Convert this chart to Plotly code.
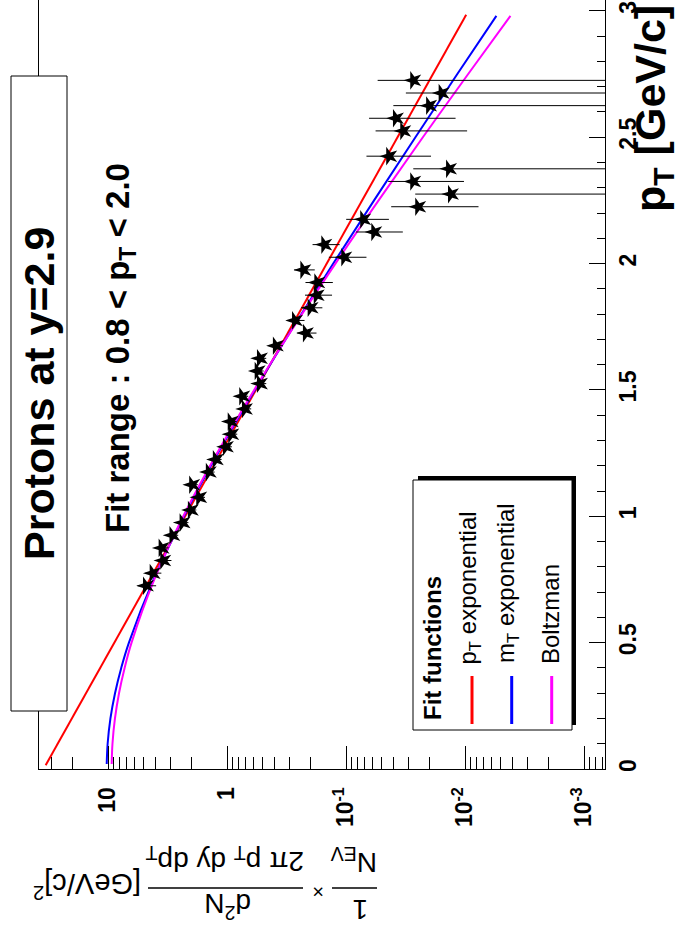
import plotly.graph_objects as go

# ---------------- data ----------------
pt = [0.725, 0.775, 0.825, 0.875, 0.925, 0.975, 1.025, 1.075, 1.125, 1.175,
      1.225, 1.275, 1.325, 1.375, 1.425, 1.475, 1.525, 1.575, 1.625, 1.675,
      1.725, 1.775, 1.825, 1.875, 1.925, 1.975, 2.025, 2.075, 2.125, 2.175,
      2.225, 2.275, 2.325, 2.375, 2.425, 2.525, 2.575, 2.625, 2.675, 2.725]
dn = [4.79, 4.21, 3.43, 3.54, 2.87, 2.36, 2.01, 1.71, 1.96, 1.42,
      1.24, 1.02, 0.92, 0.93, 0.706, 0.744, 0.528, 0.552, 0.528, 0.388,
      0.217, 0.268, 0.198, 0.176, 0.174, 0.228, 0.1033, 0.152, 0.0578, 0.0716,
      0.0247, 0.0131, 0.0272, 0.0136, 0.0433, 0.033, 0.038, 0.020, 0.0157, 0.0272]
dn_err = [0.85, 0.65, 0.5, 0.45, 0.3, 0.25, 0.2, 0.18, 0.2, 0.15,
          0.13, 0.11, 0.1, 0.1, 0.08, 0.08, 0.06, 0.06, 0.06, 0.05,
          0.04, 0.045, 0.04, 0.045, 0.045, 0.045, 0.036, 0.039, 0.0245, 0.028,
          0.017, 0.0131, 0.017, 0.0136, 0.024, 0.0234, 0.026, 0.020, 0.0157, 0.027]

curve_pt = [0.02, 0.1, 0.2, 0.3, 0.4, 0.5, 0.75, 1.0, 1.25, 1.5, 1.75, 2.0,
            2.25, 2.5, 2.75, 2.98]
mt_exp = [10.25, 10.07, 9.54, 8.73, 7.74, 6.67, 4.14, 2.30, 1.19, 0.583,
          0.2765, 0.128, 0.0581, 0.0261, 0.0116, 0.00545]
boltz = [9.31, 9.17, 8.74, 8.08, 7.25, 6.34, 4.08, 2.33, 1.21, 0.591,
         0.2745, 0.1227, 0.0532, 0.0226, 0.0094, 0.00415]
red_pt = [0.015, 1.0, 2.0, 2.985]
pt_exp = [33.4, 2.25, 0.145, 0.00977]

decade_vals = [1e-3, 1e-2, 1e-1, 1, 10]
decade_text = ["10<sup>-3</sup>", "10<sup>-2</sup>", "10<sup>-1</sup>", "1", "10"]
minor_vals = [m * 10.0 ** k for k in range(-4, 2) for m in range(2, 10)]

# ---------------- layout helpers ----------------
W, H = 677, 940
L, R, T, B = 39, 605, 0, 769
def px(x):
    return (x - L) / (R - L)
def py(y):
    return (B - y) / (B - T)

FONT = "Liberation Sans"

fig = go.Figure()

fig.add_trace(go.Scatter(x=pt_exp, y=red_pt, mode="lines",
                         line=dict(color="#ff0000", width=2), hoverinfo="skip"))
fig.add_trace(go.Scatter(x=mt_exp, y=curve_pt, mode="lines",
                         line=dict(color="#0000ff", width=2, shape="spline"), hoverinfo="skip"))
fig.add_trace(go.Scatter(x=boltz, y=curve_pt, mode="lines",
                         line=dict(color="#ff00ff", width=2, shape="spline"), hoverinfo="skip"))
fig.add_trace(go.Scatter(
    x=dn, y=pt, mode="markers",
    marker=dict(symbol="star", size=14, color="black", angle=-90,
                line=dict(width=0)),
    error_x=dict(type="data", array=dn_err, color="black", thickness=1, width=0),
))
# helper trace for the minor-tick axis
fig.add_trace(go.Scatter(x=[1], y=[1], xaxis="x2", mode="markers",
                         marker=dict(opacity=0), hoverinfo="skip"))

xr = [1.5798, -3.1765]
tickfont = dict(family=FONT, size=23, color="black", weight="bold")
fig.update_layout(
    width=W, height=H,
    margin=dict(l=L, r=W - R, t=T, b=H - B),
    paper_bgcolor="white", plot_bgcolor="white",
    showlegend=False,
    xaxis=dict(type="log", range=xr, tickvals=decade_vals, ticktext=decade_text,
               ticks="inside", ticklen=23, tickwidth=1, tickcolor="black",
               showline=True, linecolor="black", linewidth=1,
               showgrid=False, zeroline=False, tickangle=-90,
               tickfont=tickfont, ticklabelstandoff=8),
    xaxis2=dict(type="log", range=xr, overlaying="x", anchor="y", side="bottom",
                tickvals=minor_vals, ticks="inside", ticklen=12, tickwidth=1,
                tickcolor="black", showticklabels=False, showgrid=False,
                showline=False, zeroline=False),
    yaxis=dict(range=[0, 3.043], side="right", tick0=0, dtick=0.5,
               ticks="inside", ticklen=16, tickwidth=1, tickcolor="black",
               minor=dict(ticks="inside", ticklen=8, tick0=0, dtick=0.1,
                          tickcolor="black", showgrid=False),
               showline=True, mirror=True, linecolor="black", linewidth=1,
               showgrid=False, zeroline=False, tickangle=-90,
               tickfont=tickfont, ticklabelstandoff=2),
)

shapes = []
annots = []

# title pave
shapes.append(dict(type="rect", xref="paper", yref="paper",
                   x0=px(11), x1=px(67), y0=py(711), y1=py(76),
                   line=dict(color="black", width=1), fillcolor="white", layer="above"))
annots.append(dict(text="<b>Protons at y=2.9</b>", x=px(39), y=py(394),
                   textangle=-90, font=dict(family=FONT, size=43, color="black")))
annots.append(dict(text="<b>Fit range : 0.8 &lt; p<sub>T</sub> &lt; 2.0</b>", x=px(120), y=py(348),
                   textangle=-90, font=dict(family=FONT, size=33, color="black")))
annots.append(dict(text="<b>p<sub>T</sub> [GeV/c]</b>", x=px(653), y=py(109),
                   textangle=-90, font=dict(family=FONT, size=43, color="black")))

# legend
shapes.append(dict(type="rect", xref="paper", yref="paper",
                   x0=px(418), x1=px(576), y0=py(725), y1=py(476),
                   line=dict(width=0), fillcolor="black", layer="above"))
shapes.append(dict(type="rect", xref="paper", yref="paper",
                   x0=px(413), x1=px(572), y0=py(730), y1=py(480),
                   line=dict(color="black", width=1), fillcolor="white", layer="above"))
annots.append(dict(text="<b>Fit functions</b>", x=px(432), y=py(722), yanchor="bottom",
                   textangle=-90, font=dict(family=FONT, size=24, color="black")))
legend_items = [("p<sub>T</sub> exponential", "#ff0000", 469, 472, 667),
                ("m<sub>T</sub> exponential", "#0000ff", 507, 511.7, 665),
                ("Boltzman", "#ff00ff", 550, 551.7, 666)]
for txt, col, tx, lx, ty in legend_items:
    annots.append(dict(text=txt, x=px(tx), y=py(ty), yanchor="bottom",
                       textangle=-90, font=dict(family=FONT, size=24, color="black")))
    shapes.append(dict(type="line", xref="paper", yref="paper",
                       x0=px(lx), x1=px(lx), y0=py(724), y1=py(676),
                       line=dict(color=col, width=3), layer="above"))

# y-axis title (upside down)
yfont = dict(family=FONT, size=28, color="black")
annots.append(dict(text="1", x=px(360), y=py(910), textangle=180, font=yfont))
annots.append(dict(text="N<sub>EV</sub>", x=px(354), y=py(861), textangle=180, font=yfont))
annots.append(dict(text="×", x=px(318), y=py(892), textangle=180,
                   font=dict(family=FONT, size=20, color="black")))
annots.append(dict(text="d<sup>2</sup>N", x=px(228), y=py(906), textangle=180, font=yfont))
annots.append(dict(text="2π p<sub>T</sub> dy dp<sub>T</sub>", x=px(225), y=py(860),
                   textangle=180, font=yfont))
annots.append(dict(text="[GeV/c]<sup>2</sup>", x=px(87), y=py(886), textangle=180,
                   font=dict(family=FONT, size=29, color="black")))
for x0, x1 in [(332, 377), (148, 303)]:
    shapes.append(dict(type="line", xref="paper", yref="paper",
                       x0=px(x0), x1=px(x1), y0=py(888), y1=py(888),
                       line=dict(color="black", width=1.5)))

for a in annots:
    a.update(xref="paper", yref="paper", showarrow=False)
    a.setdefault("xanchor", "center")
    a.setdefault("yanchor", "middle")
fig.update_layout(shapes=shapes, annotations=annots)

fig.write_html("out.html")
